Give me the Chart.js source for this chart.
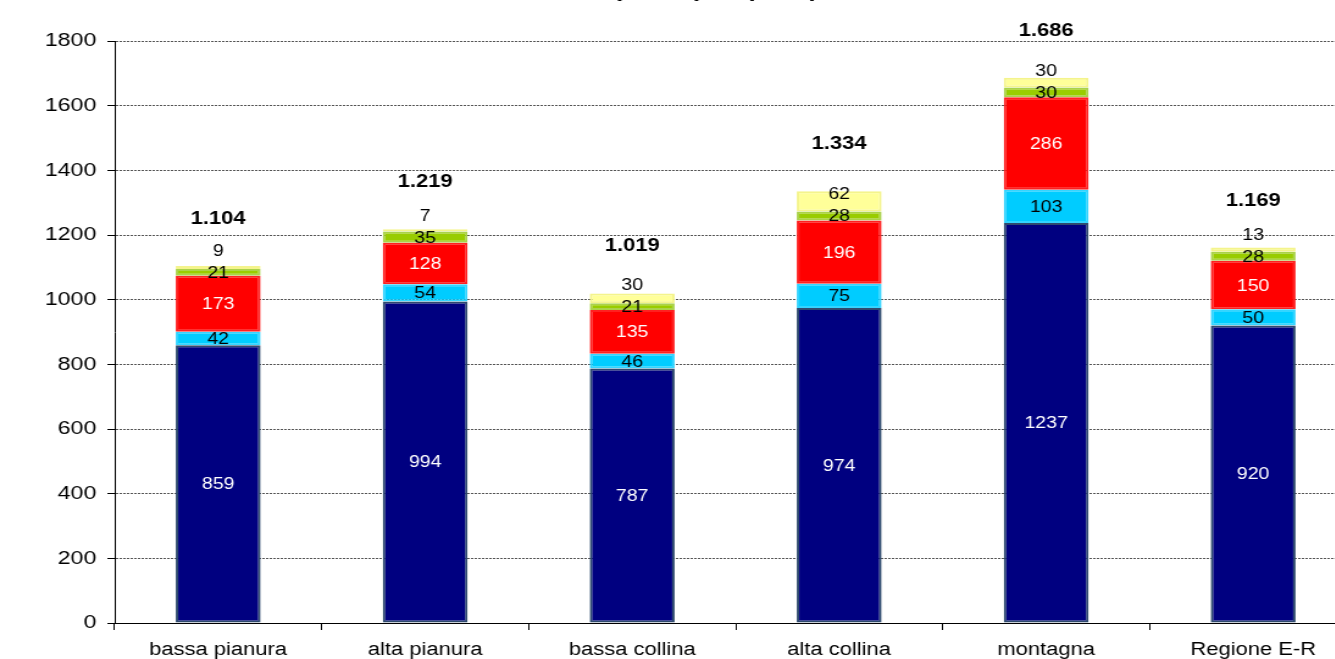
<!DOCTYPE html>
<html>
<head>
<meta charset="utf-8">
<script src="https://cdn.jsdelivr.net/npm/chart.js@4.4.1/dist/chart.umd.min.js"></script>
<style>
  html, body { margin: 0; padding: 0; background: #fff; overflow: hidden; }
  /* il grafico viene disegnato stretto e poi allargato in orizzontale */
  #wrap { position: absolute; left: 0; top: 0; width: 1115px; height: 659px;
          transform-origin: 0 0; transform: scaleX(1.22); }
</style>
</head>
<body>
<div id="wrap"><canvas id="c"></canvas></div>
<script>
// Spesa pro capite per zona altimetrica
const ZONE = ['bassa pianura', 'alta pianura', 'bassa collina', 'alta collina', 'montagna', 'Regione E-R'];
const NAVY = [859, 994, 787, 974, 1237, 920];
const CIANO = [42, 54, 46, 75, 103, 50];
const ROSSO = [173, 128, 135, 196, 286, 150];
const VERDE = [21, 35, 21, 28, 30, 28];
const GIALLO = [9, 7, 30, 62, 30, 13];
const TOTALI = ['1.104', '1.219', '1.019', '1.334', '1.686', '1.169'];
const Y_MAX = 1800;
const Y_STEP = 200;

const FONT = 'Arial, "Liberation Sans", sans-serif';

const serie = [
  { data: NAVY, bg: '#000080', bd: '#2E4A6E', txt: '#fff' },
  { data: CIANO, bg: '#00CCFF', bd: '#33D4FF', txt: '#000' },
  { data: ROSSO, bg: '#FF0000', bd: '#FF2020', txt: '#fff' },
  { data: VERDE, bg: '#99CC00', bd: '#AAD24A', txt: '#000' },
  { data: GIALLO, bg: '#FFFF99', bd: '#F4F48C', txt: '#000' },
];

// etichette dei segmenti e totali sopra le colonne
const etichette = {
  id: 'etichette',
  afterDatasetsDraw(chart) {
    const { ctx } = chart;
    ctx.save();
    ctx.textAlign = 'center';
    ctx.textBaseline = 'middle';
    ctx.font = '16px ' + FONT;
    const centri = chart.data.datasets.map((ds, di) =>
      chart.getDatasetMeta(di).data.map(bar => (bar.y + bar.base) / 2));
    chart.data.datasets.forEach((ds, di) => {
      const meta = chart.getDatasetMeta(di);
      ctx.fillStyle = serie[di].txt;
      meta.data.forEach((bar, i) => {
        let y = centri[di][i];
        // l'ultimo segmento è sottile: l'etichetta sale sopra quella del verde
        if (di === 4) y = Math.min(y, centri[3][i] - 22);
        ctx.fillText(String(ds.data[i]), bar.x, y + 1);
      });
    });
    const top = chart.getDatasetMeta(4).data;
    ctx.font = 'bold 18px ' + FONT;
    ctx.fillStyle = '#000';
    top.forEach((bar, i) => {
      ctx.fillText(TOTALI[i], bar.x, bar.y - 47);
    });
    // titolo, tagliato dal bordo superiore
    ctx.textAlign = 'left';
    ctx.textBaseline = 'alphabetic';
    ctx.font = 'bold 21px ' + FONT;
    ctx.fillText('pro capite (euro)', 505, -3);
    ctx.restore();
  }
};

new Chart(document.getElementById('c'), {
  type: 'bar',
  data: {
    labels: ZONE,
    datasets: serie.map(s => ({
      data: s.data,
      backgroundColor: s.bg,
      borderColor: s.bd,
      borderWidth: 2,
      borderSkipped: false,
      barPercentage: 0.41,
      categoryPercentage: 1,
    })),
  },
  options: {
    responsive: true,
    maintainAspectRatio: false,
    animation: false,
    layout: { padding: { top: 41, right: 3, left: 0, bottom: 0 } },
    plugins: { legend: { display: false }, tooltip: { enabled: false } },
    scales: {
      x: {
        stacked: true,
        offset: true,
        grid: { offset: true, drawOnChartArea: false, drawTicks: true, tickLength: 7, color: '#000', tickColor: '#000' },
        border: { display: true, color: '#000', width: 1 },
        ticks: { color: '#000', font: { family: FONT, size: 18 }, padding: 9 },
        afterFit(scale) { scale.height = 36; },
      },
      y: {
        stacked: true,
        min: 0,
        max: Y_MAX,
        ticks: {
          stepSize: Y_STEP,
          color: '#000',
          font: { family: FONT, size: 19 },
          padding: 9,
          callback: v => String(v),
        },
        grid: { color: '#555', tickColor: '#000', tickLength: 6, tickBorderDash: [0, 0], lineWidth: 1 },
        border: { display: true, color: '#000', width: 1, dash: [2, 1] },
        afterFit(scale) { scale.width = 94; },
      },
    },
  },
  plugins: [etichette],
});
</script>
</body>
</html>
